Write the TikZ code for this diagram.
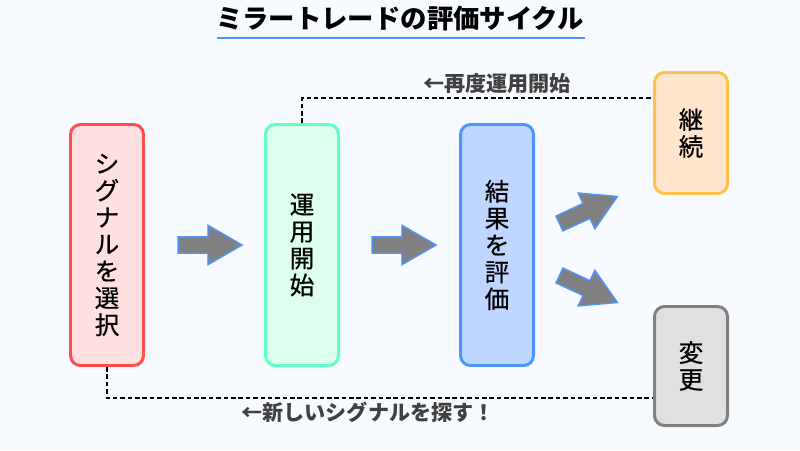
\documentclass[tikz,border=0pt]{standalone}
\usepackage{fontspec}
\setmainfont{Noto Sans CJK JP}
\newfontfamily\boxfont[FakeBold=0.6]{Noto Sans CJK JP}
\usetikzlibrary{shapes.arrows}

\definecolor{bgcol}{RGB}{247,251,255}
\definecolor{linecol}{RGB}{77,148,255}
\definecolor{labelcol}{RGB}{64,64,64}
\definecolor{selline}{RGB}{255,77,77}
\definecolor{selfill}{RGB}{255,224,224}
\definecolor{runline}{RGB}{95,255,192}
\definecolor{runfill}{RGB}{221,255,240}
\definecolor{evalline}{RGB}{77,148,255}
\definecolor{evalfill}{RGB}{191,215,255}
\definecolor{contline}{RGB}{255,192,77}
\definecolor{contfill}{RGB}{255,229,204}
\definecolor{chgline}{RGB}{128,128,128}
\definecolor{chgfill}{RGB}{224,224,224}

\tikzset{
	stepbox/.style={rectangle, rounded corners=0.2cm, line width=1.7pt, minimum width=1.46cm,
		align=center, font=\boxfont\fontsize{14}{15.3}\selectfont},
	blockarrow/.style={single arrow, draw=linecol, fill=gray, line width=0.8pt, inner sep=0.15cm,
		minimum height=1.28cm, single arrow head extend=0.23cm, single arrow tip angle=60},
	loopline/.style={dash pattern=on 2.6pt off 1.6pt, line width=0.6pt},
	looplabel/.style={text=labelcol, font=\fontsize{12}{14}\selectfont\bfseries}
}

\begin{document}
\begin{tikzpicture}
		\fill[bgcol] (0,0) rectangle (16,9);
		\useasboundingbox (0,0) rectangle (16,9);
		
		\node[font=\fontsize{15}{18}\selectfont\bfseries] (title) at (8,8.62) {ミラートレードの評価サイクル};
		\draw[linecol, line width=1.5pt] (4.34,8.24) -- (11.7,8.24);
		
		\node[stepbox, draw=selline, fill=selfill, minimum height=4.82cm] (sel) at (2.14,4.1) {シ\\グ\\ナ\\ル\\を\\選\\択};
		\node[stepbox, draw=runline, fill=runfill, minimum height=4.82cm] (run) at (6.04,4.1) {運\\用\\開\\始};
		\node[stepbox, draw=evalline, fill=evalfill, minimum height=4.82cm] (eval) at (9.94,4.1) {結\\果\\を\\評\\価};
		\node[stepbox, draw=contline, fill=contfill, minimum height=2.42cm] (cont) at (13.82,6.34) {継\\続};
		\node[stepbox, draw=chgline, fill=chgfill, minimum height=2.38cm] (chg) at (13.82,1.68) {変\\更};
		
		\node[blockarrow] (arr1) at (4.06,4.1) {};
		\node[blockarrow] (arr2) at (7.94,4.1) {};
		\node[blockarrow, rotate=25] (arr3) at (11.64,4.74) {};
		\node[blockarrow, rotate=-25] (arr4) at (11.64,3.28) {};
		
		\coordinate (topturn) at (6.04,7.04);
		\draw[loopline] (run.north) -- (topturn) -- (topturn -| cont.west);
		\node[looplabel] (toplabel) at (9.94,7.32) {←再度運用開始};
		
		\coordinate (botturn) at (2.14,1.04);
		\draw[loopline] (sel.south) -- (botturn) -- (botturn -| chg.west);
		\node[looplabel] (botlabel) at (7.36,0.76) {←新しいシグナルを探す！};
	\end{tikzpicture}
\end{document}
